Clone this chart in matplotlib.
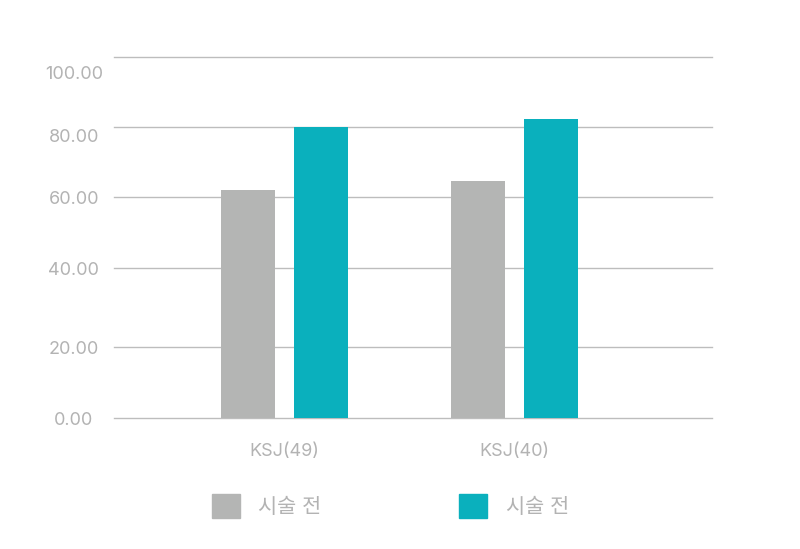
import numpy as np
import matplotlib
matplotlib.use("Agg")
import matplotlib.pyplot as plt
import matplotlib.transforms as mtransforms
from matplotlib.patches import Patch

plt.rcParams['font.family'] = ['Inter', 'Noto Sans CJK KR', 'DejaVu Sans']

#%% data
categories = ["KSJ(49)", "KSJ(40)"]
before = [62.0, 64.7]
after = [80.0, 82.4]
legend_labels = ["시술 전", "시술 전"]
yticks = [0, 20, 40, 60, 80, 100]
ytick_labels = ["0.00", "20.00", "40.00", "60.00", "80.00", "100.00"]

GRAY = "#b4b5b4"
TEAL = "#0ab0bd"
TXT = "#b3b3b3"
GRID = "#bdbdbd"

# the gridlines in the original are not evenly spaced
_vals = np.array([0, 20, 40, 60, 80, 100], dtype=float)
_pix = np.array([0, 71.3, 150.0, 221.1, 291.1, 361.0])

def fwd(v):
    return np.interp(v, _vals, _pix)

def inv(p):
    return np.interp(p, _pix, _vals)

#%% plot
fig = plt.figure(figsize=(8, 5.49), dpi=100)
ax = fig.add_axes([0.1425, 0.238, 0.7475, 0.6576])
ax.set_yscale('function', functions=(fwd, inv))

x = np.arange(len(categories))
w = 0.235
off = 0.159
ax.bar(x - off, before, w, color=GRAY, zorder=3)
ax.bar(x + off, after, w, color=TEAL, zorder=3)

ax.set_xlim(-0.741, 1.859)
ax.set_ylim(0, 100)
ax.set_yticks(yticks)
ax.set_yticklabels(ytick_labels)
ax.set_xticks(x)
ax.set_xticklabels(categories)

ax.grid(axis='y', color=GRID, linewidth=1, zorder=0)
for gl in ax.get_ygridlines():
    gl.set_clip_on(False)
for s in ax.spines.values():
    s.set_visible(False)
ax.tick_params(axis='y', length=0, colors=TXT, labelsize=13, pad=29)
ax.tick_params(axis='x', length=0, colors=TXT, labelsize=13, pad=18)

# y labels are centred in the original, top two sit below their gridlines
ylabs = ax.get_yticklabels()
for lab in ylabs:
    lab.set_horizontalalignment('center')
for lab, dy in zip(ylabs[-2:], [-8, -15]):
    lab.set_transform(lab.get_transform() + mtransforms.ScaledTranslation(0, dy / 100, fig.dpi_scale_trans))

handles = [Patch(color=GRAY), Patch(color=TEAL)]
leg = fig.legend(handles, legend_labels, ncol=2, loc='center', bbox_to_anchor=(0.488, 0.078),
                 frameon=False, fontsize=15, handlelength=1.35, handleheight=1.35,
                 handletextpad=0.9, columnspacing=6.6, labelcolor=TXT)

fig.savefig("out.png", dpi=100)
